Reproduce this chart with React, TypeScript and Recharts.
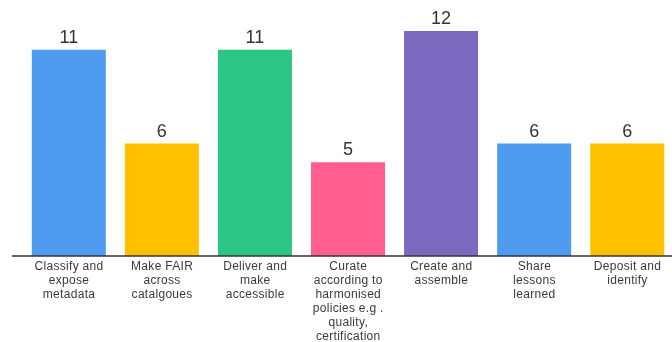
import React from 'react';
import { BarChart, Bar, XAxis, YAxis, LabelList, Cell } from 'recharts';

const categories = [
  'Classify and\nexpose\nmetadata',
  'Make FAIR\nacross\ncatalgoues',
  'Deliver and\nmake\naccessible',
  'Curate\naccording to\nharmonised\npolicies e.g .\nquality,\ncertification',
  'Create and\nassemble',
  'Share\nlessons\nlearned',
  'Deposit and\nidentify',
];

const counts = [11, 6, 11, 5, 12, 6, 6];

const colors = ['#4F9BEF', '#FFC000', '#2CC585', '#FF5E8E', '#7B68BF', '#4F9BEF', '#FFC000'];

const data = categories.map((name, i) => ({ name, value: counts[i], fill: colors[i] }));

const WrapTick = (props: any) => {
  const { x, y, payload } = props;
  const lines: string[] = String(payload.value).split('\n');
  return (
    <text
      x={x}
      y={y}
      textAnchor="middle"
      fill="#3a3a3a"
      fontSize={12}
      letterSpacing={0.3}
      fontFamily="'Liberation Sans', Arial, sans-serif"
    >
      {lines.map((l, i) => (
        <tspan key={i} x={x} dy={i === 0 ? 12 : 14}>
          {l}
        </tspan>
      ))}
    </text>
  );
};

export default function App() {
  return (
    <div style={{ position: 'fixed', left: 0, top: 0, width: 672, height: 342, overflow: 'hidden' }}>
      <BarChart
        width={674}
        height={342}
        data={data}
        margin={{ top: 31, right: 0, left: 12, bottom: 0 }}
        barCategoryGap="10%"
        style={{ overflow: 'visible' }}
      >
        <XAxis
          dataKey="name"
          interval={0}
          height={86}
          padding={{ left: 10.5, right: 0 }}
          tickLine={false}
          tickSize={0}
          tickMargin={2}
          axisLine={{ stroke: '#333', strokeWidth: 1.5 }}
          tick={<WrapTick />}
        />
        <YAxis hide domain={[0, 12]} />
        <Bar dataKey="value" isAnimationActive={false}>
          {data.map((d, i) => (
            <Cell key={i} fill={d.fill} />
          ))}
          <LabelList
            dataKey="value"
            position="top"
            offset={7}
            fill="#333"
            fontSize={18}
            fontFamily="'Liberation Sans', Arial, sans-serif"
          />
        </Bar>
      </BarChart>
    </div>
  );
}
